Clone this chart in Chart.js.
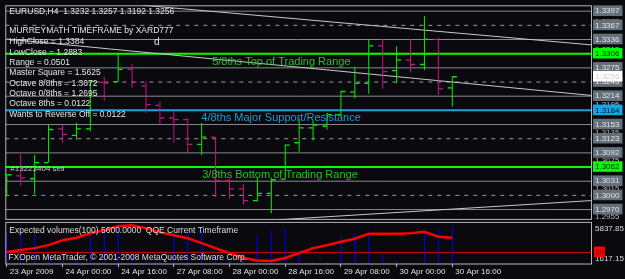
<!DOCTYPE html>
<html lang="en">
<head>
<meta charset="UTF-8">
<title>EURUSD H4 - MurreyMath</title>
<script src="https://cdn.jsdelivr.net/npm/chart.js"></script>
<style>
  html, body { margin: 0; padding: 0; background: #0a0a0e; }
  #wrap { width: 625px; height: 279px; }
</style>
</head>
<body>
<div id="wrap"><canvas id="mt4" width="625" height="279"></canvas></div>
<script>
// --- values ---
// H4 bars, index 0 = 23 Apr 08:00
var barOpen  = [1.30107, 1.30427, 1.30363, 1.30711, 1.31437, 1.31296, 1.31437, 1.32440, 1.32455, 1.32718, 1.32363,
                1.31943, 1.31672, 1.31637, 1.31104, 1.31260, 1.30320, 1.30143, 1.29894, 1.30049, 1.30357, 1.31138,
                1.31458, 1.31494, 1.31744, 1.32227, 1.32419, 1.33224, 1.32690, 1.32918, 1.32824, 1.33366, 1.32320];
var barHigh  = [1.30463, 1.30890, 1.30875, 1.31531, 1.31531, 1.31565, 1.32491, 1.32562, 1.33046, 1.32833, 1.32455,
                1.32028, 1.31815, 1.31672, 1.31565, 1.31260, 1.30357, 1.30250, 1.30391, 1.30391, 1.31104, 1.31659,
                1.31601, 1.31778, 1.32257, 1.32775, 1.33366, 1.33379, 1.33217, 1.33366, 1.33864, 1.33394, 1.32570];
var barLow   = [1.30000, 1.30214, 1.30036, 1.30711, 1.31138, 1.31211, 1.31388, 1.32043, 1.32455, 1.32327, 1.31778,
                1.31531, 1.31138, 1.30903, 1.30869, 1.29964, 1.29930, 1.29808, 1.29872, 1.29622, 1.30342, 1.30946,
                1.31189, 1.31424, 1.31708, 1.32099, 1.32193, 1.32299, 1.32419, 1.32654, 1.32705, 1.32171, 1.31920];
var barClose = [1.30449, 1.30384, 1.30711, 1.31424, 1.31317, 1.31437, 1.32455, 1.32423, 1.32718, 1.32440, 1.31958,
                1.31672, 1.31637, 1.31104, 1.31260, 1.30320, 1.30143, 1.29894, 1.30049, 1.30342, 1.31089, 1.31458,
                1.31516, 1.31744, 1.32242, 1.32419, 1.33224, 1.32669, 1.32918, 1.32824, 1.33366, 1.32299, 1.32560];

var dateTicks  = [0, 4, 8, 12, 16, 20, 24, 28, 32];
var dateLabels = ['23 Apr 2009', '24 Apr 00:00', '24 Apr 16:00', '27 Apr 08:00', '28 Apr 00:00',
                  '28 Apr 16:00', '29 Apr 08:00', '30 Apr 00:00', '30 Apr 16:00'];

// murrey math lines, top to bottom (every 4th one is a major 8th)
var mmLevels = [1.339722, 1.336670, 1.333618, 1.330566, 1.327515, 1.324463, 1.321411, 1.318359,
                1.315308, 1.312256, 1.309204, 1.306152, 1.303101, 1.300049, 1.296997];
// mt4 price grid labels (mostly hidden behind the boxes)
var gridPrices = [1.3375, 1.3315, 1.3255, 1.3195, 1.3135, 1.3075, 1.3015, 1.2955];
var lastPrice = 1.3256;

// the three grey trend lines, [bar index, price] end points
var trendTop    = [[9.8, 1.34099], [42.04, 1.33245]];
var trendMiddle = [[0, 1.33373], [42.04, 1.32156]];
var trendBottom = [[19.5, 1.29480], [42.04, 1.29894]];

// lower window, in % of the window height
var volBars = [72.6, 67.4, 65.2, 18, 6.7, 9, 69.7, 69.7, 80.9, 20.2, 6.7, 9, 65.2, 69.7, 76.4, 20.2, 6.7,
               6.7, 63.6, 74.2, 80.9, 22.5, 5.2, 5.2, 61.3, 69.7, 76.4, 20.2, 6.7, 5.2, 69.7, 80.2, 87.6];
var qqeLine = [27, 31.5, 36, 42.7, 53.9, 59.6, 69.7, 76.4, 85.4, 87.6, 80.9, 71.9, 65.2, 58.4, 47.2, 36, 24.7,
               13.5, 7.9, 6.7, 13.5, 24.7, 36, 42.7, 50.6, 57.3, 68.5, 68.5, 68.5, 69.7, 73, 61.8, 59.6];
var qqeLevel = 26.3;
var lowerTicks = [80.9, 12.4, 26.3];
var lowerTickLabels = ['5837.85', '1617.15', '30'];

var titleText = 'EURUSD,H4  1.3232 1.3257 1.3192 1.3256';
var infoLines = ['MURREYMATH TIMEFRAME by XARD777', 'HighClose = 1.3384', 'LowClose = 1.2883', 'Range = 0.0501',
                 'Master Square = 1.5625', 'Octave 8/8ths = 1.3672', 'Octave 0/8ths = 1.2695',
                 'Octave 8ths = 0.0122', 'Wants to Reverse Off = 0.0122'];
var levelNotes = ['5/8ths Top of Trading Range', '4/8ths Major Support/Resistance', '3/8ths Bottom of Trading Range'];
var orderNote = '#13223404 sell';
var lowerTitle = 'Expected volumes(100) 5600.0000  QQE Current Timeframe';
var copyright = 'FXOpen MetaTrader, \u00a9 2001-2008 MetaQuotes Software Corp.';

// --- chart ---
var FONT = '"Liberation Sans", Arial, sans-serif';
var BULL = '#00f000', BEAR = '#c71585';
var X_MIN = -1.5 / 14, X_MAX = X_MIN + 590 / 14;

function isBull(i) { return barClose[i] >= barOpen[i]; }
function barColor(c) { return isBull(c.dataIndex) ? BULL : BEAR; }

var datasets = [];

// high-low sticks
datasets.push({
    type: 'bar', yAxisID: 'y', order: 1, grouped: false, maxBarThickness: 1,
    data: barLow.map(function (l, i) { return { x: i, y: [l, barHigh[i]] }; }),
    backgroundColor: barColor, borderWidth: 0
});
// open ticks (left) and close ticks (right)
datasets.push({
    type: 'scatter', yAxisID: 'y', order: 1, showLine: false,
    data: barOpen.map(function (o, i) { return { x: i - 0.18, y: o }; }),
    pointStyle: 'line', pointRadius: 2, pointBorderWidth: 1.3, pointBorderColor: barColor
});
datasets.push({
    type: 'scatter', yAxisID: 'y', order: 1, showLine: false,
    data: barClose.map(function (c, i) { return { x: i + 0.18, y: c }; }),
    pointStyle: 'line', pointRadius: 2, pointBorderWidth: 1.3, pointBorderColor: barColor
});

// murrey lines
mmLevels.forEach(function (lvl, i) {
    var major = i % 4 === 3, dashed = i % 4 === 1;
    datasets.push({
        type: 'line', yAxisID: 'y', order: 6,
        data: [{ x: X_MIN, y: lvl }, { x: X_MAX, y: lvl }],
        borderColor: major ? (i === 7 ? '#1ea3e0' : '#00ff00') : (dashed ? '#9a9a9a' : '#8a8a8a'),
        borderWidth: major ? 2 : 1,
        borderDash: dashed ? [4, 5] : [],
        pointRadius: 0
    });
});

// trend lines
[trendTop, trendMiddle, trendBottom].forEach(function (t) {
    datasets.push({
        type: 'line', yAxisID: 'y', order: 4,
        data: t.map(function (p) { return { x: p[0], y: p[1] }; }),
        borderColor: '#c8c8c8', borderWidth: 1, pointRadius: 0
    });
});

// lower window
datasets.push({
    type: 'line', yAxisID: 'y2', order: 2,
    data: qqeLine.map(function (v, i) { return { x: i, y: v }; }),
    borderColor: '#ff0000', borderWidth: 2.5, pointRadius: 0
});
datasets.push({
    type: 'bar', yAxisID: 'y2', order: 3, grouped: false, maxBarThickness: 1,
    data: volBars.map(function (v, i) { return { x: i, y: v }; }),
    backgroundColor: '#0000ff', borderWidth: 0
});
datasets.push({
    type: 'line', yAxisID: 'y2', order: 5,
    data: [{ x: X_MIN, y: qqeLevel }, { x: X_MAX, y: qqeLevel }],
    borderColor: '#e00000', borderWidth: 1, pointRadius: 0
});

// price axis: grid labels first, then the boxed murrey labels, then last price
var axisValues = gridPrices.concat(mmLevels, [lastPrice]);
var nGrid = gridPrices.length;
function axisKind(i) {
    if (i < nGrid) return 'grid';
    if (i === axisValues.length - 1) return 'last';
    var k = i - nGrid;
    if (k === 3 || k === 11) return 'green';
    if (k === 7) return 'blue';
    return 'box';
}
var boxFill = { grid: 'rgba(0,0,0,0)', box: '#66707a', green: '#00ff00', blue: '#12a8e6', last: '#ffffff' };
var boxText = { grid: '#b8b8b8', box: '#e2e6ea', green: '#002000', blue: '#00121c', last: '#d0d0d0' };

// no extra room for the first/last labels, the window edges are fixed
function noPad(s) { s.paddingTop = 0; s.paddingBottom = 0; s.paddingLeft = 0; s.paddingRight = 0; }

var overlay = {
    id: 'overlay',
    afterDatasetsDraw: function (chart) {
        var ctx = chart.ctx, a = chart.chartArea, xs = chart.scales.x, ys = chart.scales.y, y2 = chart.scales.y2;
        ctx.save();
        // window frames
        ctx.strokeStyle = '#b4b4b4';
        ctx.lineWidth = 1;
        ctx.strokeRect(a.left + 0.5, ys.top + 0.5, a.width - 1, ys.bottom - ys.top - 1);
        ctx.strokeRect(a.left + 0.5, y2.top + 2.5, a.width - 1, y2.bottom - y2.top - 2.5);

        ctx.textBaseline = 'middle';
        ctx.textAlign = 'left';
        ctx.fillStyle = '#e6e6e6';
        ctx.font = '8.5px ' + FONT;
        ctx.fillText(titleText, a.left + 4, a.top + 6);
        var rows = [25, 36.3, 47, 57.7, 67.7, 78, 88.3, 98.7, 109.3];
        infoLines.forEach(function (t, i) { ctx.fillText(t, a.left + 4, a.top + rows[i]); });
        ctx.font = '10px ' + FONT;
        ctx.fillText('d', 154, a.top + 37);

        // level notes under the major lines
        ctx.font = '11px ' + FONT;
        ctx.fillStyle = '#20c420';
        ctx.fillText(levelNotes[0], xs.getPixelForValue(14.75), ys.getPixelForValue(mmLevels[3]) + 8.5);
        ctx.fillStyle = '#1a9ad6';
        ctx.fillText(levelNotes[1], xs.getPixelForValue(13.97), ys.getPixelForValue(mmLevels[7]) + 8);
        ctx.fillStyle = '#20c420';
        ctx.fillText(levelNotes[2], xs.getPixelForValue(14.04), ys.getPixelForValue(mmLevels[11]) + 8);

        ctx.font = '8px ' + FONT;
        ctx.fillStyle = '#c8c8c8';
        ctx.fillText(orderNote, a.left + 5, ys.getPixelForValue(mmLevels[11]) + 1.5);

        // lower window captions
        ctx.font = '8.5px ' + FONT;
        ctx.fillStyle = '#dcdcdc';
        ctx.fillText(lowerTitle, a.left + 4, y2.top + 11);
        ctx.fillText(copyright, a.left + 3, y2.bottom - 6.5);
        ctx.restore();
    }
};

var tickFont = { family: FONT, size: 8 };

new Chart(document.getElementById('mt4'), {
    type: 'bar',
    data: { datasets: datasets },
    options: {
        responsive: false,
        animation: false,
        devicePixelRatio: 1,
        events: [],
        layout: { padding: { left: 2, top: 3, right: 0, bottom: 0 } },
        plugins: { legend: { display: false }, tooltip: { enabled: false } },
        scales: {
            x: {
                type: 'linear', min: X_MIN, max: X_MAX, offset: false,
                afterBuildTicks: function (s) { s.ticks = dateTicks.map(function (v) { return { value: v }; }); },
                afterFit: function (s) { s.height = 15; noPad(s); },
                grid: { offset: false, drawOnChartArea: false, drawTicks: true, tickLength: 3, color: '#c0c0c0' },
                border: { display: false },
                ticks: {
                    autoSkip: false, maxRotation: 0, minRotation: 0, align: 'start', padding: 0, labelOffset: 3,
                    color: '#e0e0e0', font: tickFont,
                    callback: function (v, i) { return dateLabels[i]; }
                }
            },
            y: {
                type: 'linear', position: 'right', stack: 'win', stackWeight: 216.5,
                min: 1.29477, max: 1.34099,
                afterBuildTicks: function (s) { s.ticks = axisValues.map(function (v) { return { value: v }; }); },
                afterFit: function (s) { s.width = 33; noPad(s); },
                grid: { display: false, drawTicks: false },
                border: { display: false },
                ticks: {
                    autoSkip: false, padding: 3, font: tickFont,
                    color: function (c) { return boxText[axisKind(c.index)]; },
                    showLabelBackdrop: function (c) { return axisKind(c.index) !== 'grid'; },
                    backdropColor: function (c) { return boxFill[axisKind(c.index)]; },
                    backdropPadding: { left: 2, right: 3, top: 1, bottom: 0 },
                    callback: function (v) { return v.toFixed(4); }
                }
            },
            y2: {
                type: 'linear', position: 'right', stack: 'win', stackWeight: 44.5,
                min: 0, max: 100,
                afterBuildTicks: function (s) { s.ticks = lowerTicks.map(function (v) { return { value: v }; }); },
                afterFit: function (s) { s.width = 33; noPad(s); },
                grid: { display: false, drawTicks: false },
                border: { display: false },
                ticks: {
                    autoSkip: false, padding: 3, font: tickFont,
                    color: function (c) { return c.index === 2 ? '#700000' : '#dcdcdc'; },
                    showLabelBackdrop: function (c) { return c.index === 2; },
                    backdropColor: '#ff0000',
                    backdropPadding: { left: 1, right: 1, top: 1, bottom: 0 },
                    callback: function (v, i) { return lowerTickLabels[i]; }
                }
            }
        }
    },
    plugins: [overlay]
});
</script>
</body>
</html>
